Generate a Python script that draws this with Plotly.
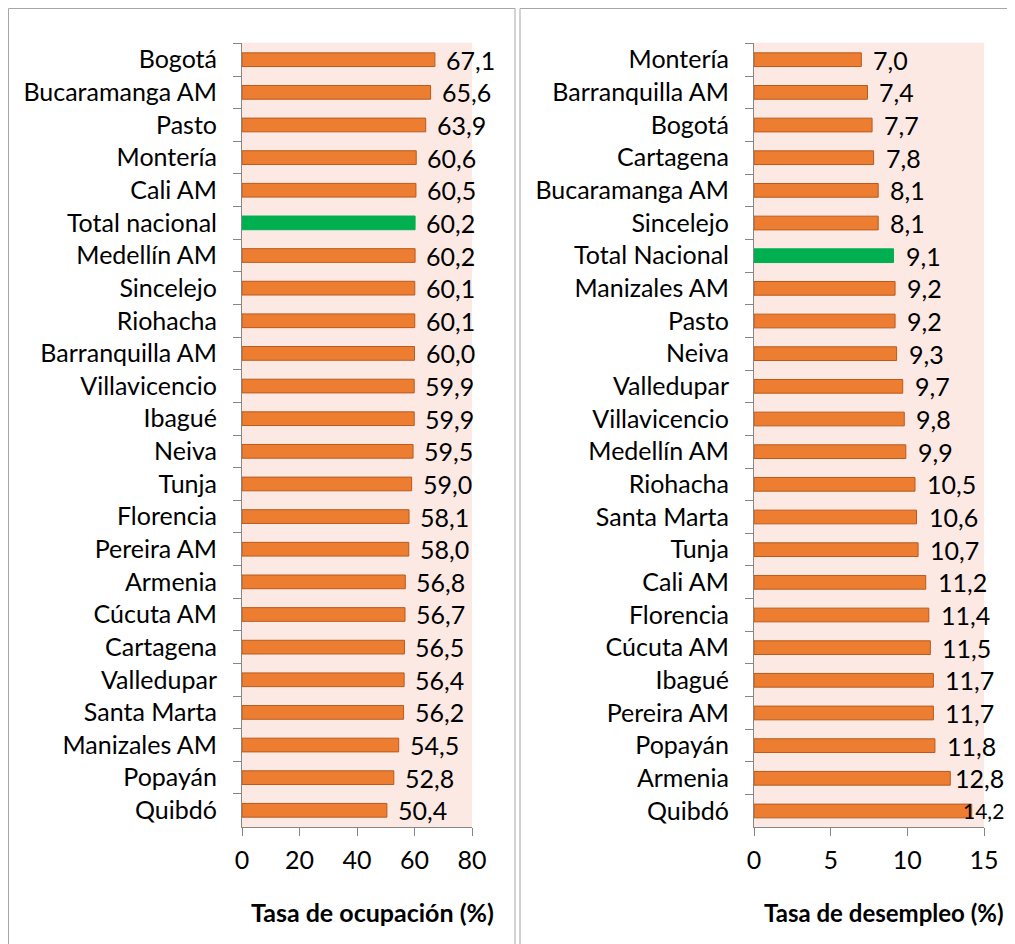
import plotly.graph_objects as go

occ_cats = ["Bogotá", "Bucaramanga AM", "Pasto", "Montería", "Cali AM", "Total nacional",
            "Medellín AM", "Sincelejo", "Riohacha", "Barranquilla AM", "Villavicencio", "Ibagué",
            "Neiva", "Tunja", "Florencia", "Pereira AM", "Armenia", "Cúcuta AM", "Cartagena",
            "Valledupar", "Santa Marta", "Manizales AM", "Popayán", "Quibdó"]
occ_vals = [67.1, 65.6, 63.9, 60.6, 60.5, 60.2, 60.2, 60.1, 60.1, 60.0, 59.9, 59.9,
            59.5, 59.0, 58.1, 58.0, 56.8, 56.7, 56.5, 56.4, 56.2, 54.5, 52.8, 50.4]

des_cats = ["Montería", "Barranquilla AM", "Bogotá", "Cartagena", "Bucaramanga AM", "Sincelejo",
            "Total Nacional", "Manizales AM", "Pasto", "Neiva", "Valledupar", "Villavicencio",
            "Medellín AM", "Riohacha", "Santa Marta", "Tunja", "Cali AM", "Florencia",
            "Cúcuta AM", "Ibagué", "Pereira AM", "Popayán", "Armenia", "Quibdó"]
des_vals = [7.0, 7.4, 7.7, 7.8, 8.1, 8.1, 9.1, 9.2, 9.2, 9.3, 9.7, 9.8,
            9.9, 10.5, 10.6, 10.7, 11.2, 11.4, 11.5, 11.7, 11.7, 11.8, 12.8, 14.2]

occ_ticks = [0, 20, 40, 60, 80]
des_ticks = [0, 5, 10, 15]

ORANGE = "#ED7D31"
ORANGE_LINE = "#B85A1E"
GREEN = "#00B050"
BG = "#FCE9E4"
FONT = "Lato, Carlito, 'Open Sans', sans-serif"
FS = 25

# page has an 8px body margin: figure coords = page coords - 8
OFF = 8
W, H = 1015 - 2 * OFF, 944 - OFF
VISIBLE_RIGHT = 1015 - OFF - 3  # last page pixel a label may reach

def px(x):
    return (x - OFF) / W

def py(y):
    return 1 - (y - OFF) / H

def colors(cats):
    return [GREEN if c.lower().startswith("total") else ORANGE for c in cats]

def line_colors(cats):
    return [GREEN if c.lower().startswith("total") else ORANGE_LINE for c in cats]

# panel geometry (page pixels)
L_X0, L_X1 = 242, 472
R_X0, R_X1 = 754, 984
Y_TOP, Y_BOT = 42.7, 827.3

fig = go.Figure()
fig.add_trace(go.Bar(x=occ_vals, y=occ_cats, orientation="h", xaxis="x", yaxis="y",
                     marker=dict(color=colors(occ_cats), line=dict(color=line_colors(occ_cats), width=1)),
                     width=0.42, showlegend=False, hoverinfo="x+y"))
fig.add_trace(go.Bar(x=des_vals, y=des_cats, orientation="h", xaxis="x2", yaxis="y2",
                     marker=dict(color=colors(des_cats), line=dict(color=line_colors(des_cats), width=1)),
                     width=0.42, showlegend=False, hoverinfo="x+y"))

annotations = []

def fmt(v):
    return f"{v:.1f}".replace(".", ",")

for v, c in zip(occ_vals, occ_cats):
    annotations.append(dict(x=v, y=c, xref="x", yref="y", text=fmt(v), showarrow=False,
                            xanchor="left", xshift=9, font=dict(size=FS, color="black", family=FONT)))

LABEL_W = 49  # approx width of a "dd,d" label at FS
MIN_FS = 21
for v, c in zip(des_vals, des_cats):
    end_px = R_X0 + v / des_ticks[-1] * (R_X1 - R_X0)
    start = end_px + 12
    size = FS
    if start + LABEL_W > VISIBLE_RIGHT:
        start = max(end_px - 8, VISIBLE_RIGHT - LABEL_W)
        size = min(FS, FS * (VISIBLE_RIGHT - start) / LABEL_W)
        if size < MIN_FS:
            size = MIN_FS
            start = VISIBLE_RIGHT - LABEL_W * MIN_FS / FS
    annotations.append(dict(x=v, y=c, xref="x2", yref="y2", text=fmt(v), showarrow=False,
                            xanchor="left", xshift=start - end_px - 2,
                            font=dict(size=size, color="black", family=FONT)))

annotations.append(dict(x=px(249), y=py(912), xref="paper", yref="paper", xanchor="left",
                        yanchor="middle", text="<b>Tasa de ocupación (%)</b>", showarrow=False,
                        font=dict(size=FS, color="black", family=FONT)))
annotations.append(dict(x=px(762), y=py(912), xref="paper", yref="paper", xanchor="left",
                        yanchor="middle", text="<b>Tasa de desempleo (%)</b>", showarrow=False,
                        font=dict(size=FS - 1, color="black", family=FONT)))

axis_common = dict(showgrid=False, zeroline=False, showline=True, linecolor="#868686", linewidth=1,
                   ticks="outside", ticklen=8, tickcolor="#868686", automargin=False,
                   tickfont=dict(size=FS, color="black", family=FONT))

ydom = [py(Y_BOT), py(Y_TOP)]
fig.update_layout(
    width=W, height=H,
    margin=dict(l=0, r=0, t=0, b=0),
    paper_bgcolor="white", plot_bgcolor=BG,
    font=dict(family=FONT, color="black"),
    xaxis=dict(domain=[px(L_X0), px(L_X1)], range=[0, 80], tickvals=occ_ticks, anchor="y",
               ticklabelstandoff=3, **axis_common),
    yaxis=dict(domain=ydom, autorange="reversed", type="category", anchor="x", tickson="boundaries",
               ticklabelstandoff=19, **axis_common),
    xaxis2=dict(domain=[px(R_X0), px(R_X1)], range=[0, 15], tickvals=des_ticks, anchor="y2",
                ticklabelstandoff=3, **axis_common),
    yaxis2=dict(domain=ydom, autorange="reversed", type="category", anchor="x2", tickson="boundaries",
                ticklabelstandoff=19, **axis_common),
    annotations=annotations,
    shapes=[
        dict(type="rect", xref="paper", yref="paper", x0=px(8.5), x1=px(515), y0=-0.05, y1=py(8.5),
             line=dict(color="#A6A6A6", width=1), fillcolor="rgba(0,0,0,0)", layer="below"),
        dict(type="rect", xref="paper", yref="paper", x0=px(520), x1=1.05, y0=-0.05, y1=py(8.5),
             line=dict(color="#A6A6A6", width=1), fillcolor="rgba(0,0,0,0)", layer="below"),
    ],
)

fig.write_html("out.html")
